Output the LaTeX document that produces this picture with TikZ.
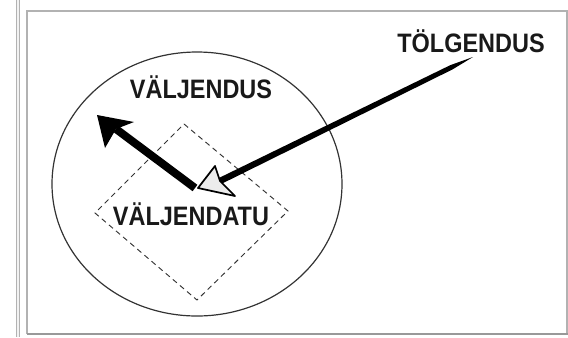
\documentclass[tikz,border=0pt]{standalone}
\usepackage{fontspec}
\setmainfont{Liberation Sans}[FakeStretch=0.88]
\usetikzlibrary{calc}
\tikzset{
  lbl/.style={font=\bfseries\fontsize{20}{24}\selectfont, text=black!90, inner sep=0pt, anchor=base},
}
\begin{document}
\begin{tikzpicture}[x=0.75pt,y=-0.75pt]
\useasboundingbox (0,0) rectangle (568,337);
% Page edge and frame
\draw[gray!60, line width=2.4pt] (18,0) -- (18,337);
\draw[gray!10, line width=0.9pt] (18,0) -- (18,337);
\draw[gray!60, line width=1.2pt] (27,334) -- (27,11) -- (567,11) -- (567,334);
\draw[gray!80, line width=1.8pt] (27,334) -- (568,334);
% Ellipse and dashed square
\draw[black!80, line width=0.9pt] (197,184) ellipse [x radius=145, y radius=132];
\draw[black!80, line width=0.7pt, dash pattern=on 4pt off 3pt] (184,124) -- (288,211) -- (197,300) -- (95,213) -- cycle;
% Labels
\node[lbl] (vaeljendus) at (201,98) {VÄLJENDUS};
\node[lbl] (vaeljendatu) at (191,225) {VÄLJENDATU};
\node[lbl] (toelgendus) at (471,52) {TÖLGENDUS};
% Black arrow
\coordinate (src) at (195,188);
\coordinate (out) at (97,115);
\coordinate (outback) at (116,129);
\draw[line width=6pt] (src) -- (outback);
\fill[black] (out) -- (134,122) -- (outback) -- (105,148) -- cycle;
% Gray arrow
\coordinate (tail) at (473,57);
\coordinate (tip) at (198,188);
\coordinate (notch) at (220,181);
\coordinate (nt) at ($(tail)!18pt!(tip)$);
\fill[black] (tail) -- ($(nt)!1.8pt!90:(tip)$) -- ($(notch)!2.4pt!-90:(tail)$)
  -- ($(notch)!2.4pt!90:(tail)$) -- ($(nt)!1.8pt!-90:(tip)$) -- cycle;
\draw[fill=gray!15, line width=1.3pt, line join=round] (tip) -- (215,166) -- (notch) -- (235,196) -- cycle;
\end{tikzpicture}
\end{document}
